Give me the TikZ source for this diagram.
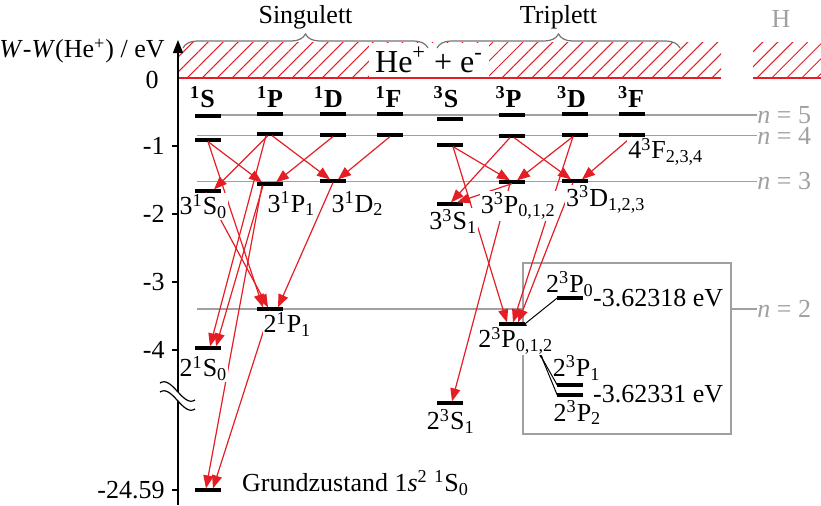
\documentclass[tikz,border=0pt]{standalone}
\usepackage{fontspec}
\setmainfont{Liberation Serif}
\usepackage{xcolor}
\usepackage{tikz}
\usetikzlibrary{arrows.meta,positioning,patterns.meta,decorations.pathreplacing}

\definecolor{linered}{RGB}{228,30,36}
\definecolor{guidegray}{RGB}{160,160,160}
\definecolor{bracegray}{RGB}{115,115,115}

\begin{document}
\begin{tikzpicture}[
    x=0.5pt, y=-0.5pt,
    font=\fontsize{13}{15.6}\selectfont,
    lvl/.style={fill=black, minimum width=12.8pt, minimum height=1.6pt,
                inner sep=0pt, outer sep=0pt},
    lab/.style={fill=white, inner sep=0.5pt},
    flab/.style={inner sep=0.5pt},
    head/.style={inner sep=0.5pt, anchor=base,
                 font=\fontsize{13}{15.6}\selectfont\bfseries},
    nline/.style={guidegray, line width=0.6pt},
    nlab/.style={guidegray, inner sep=0pt, anchor=west},
    tick/.style={inner sep=0.5pt, anchor=east},
    trans/.style={-{Triangle[length=6.5pt, width=5pt]}, linered, line width=0.6pt},
    brc/.style={decorate, decoration={brace, amplitude=7pt}, bracegray, line width=0.6pt},
    hatch/.style={pattern={Lines[angle=45, distance=5.3pt, line width=0.5pt]},
                  pattern color=linered}
  ]
    \useasboundingbox (0,0) rectangle (821,505);

    % continuum
    \fill[hatch] (178,42) rectangle (721,78);
    \fill[hatch] (753,42) rectangle (821,78);
    \node[fill=white, minimum width=60pt, minimum height=17.5pt, inner sep=0pt,
          font=\fontsize{16}{19}\selectfont] (cont)
      at (429,60) {He\textsuperscript{+} + e\textsuperscript{-}};
    \draw[linered, line width=0.8pt] (178,78) -- (721,78);
    \draw[linered, line width=0.8pt] (753,78) -- (821,78);
    \node[guidegray, inner sep=0.5pt] (hyd) at (781,19) {H};

    \coordinate (sgl) at (183,48);
    \coordinate (sgr) at (428,48);
    \coordinate (trl) at (437,48);
    \coordinate (trr) at (680,48);
    \draw[brc] (sgl) -- node[above=8.5pt, black, inner sep=0.5pt] (sing) {Singulett} (sgr);
    \draw[brc] (trl) -- node[above=8.5pt, black, inner sep=0.5pt] (trip) {Triplett} (trr);

    % shells
    \coordinate (n5a) at (197,115);
    \coordinate (n4a) at (197,135.5);
    \coordinate (n3a) at (197,181.5);
    \coordinate (n2a) at (197,309);
    \node[nlab] (n5) at (757,115)   {\textit{n} = 5};
    \node[nlab] (n4) at (757,135.5) {\textit{n} = 4};
    \node[nlab] (n3) at (757,181.5) {\textit{n} = 3};
    \node[nlab] (n2) at (757,309)   {\textit{n} = 2};
    \draw[nline] (n5a) -- (n5);
    \draw[nline] (n4a) -- (n4);
    \draw[nline] (n3a) -- (n3);
    \draw[nline] (n2a) -- (n2);

    \node[draw=guidegray, fill=white, line width=0.6pt, minimum width=104pt,
          minimum height=85.5pt, inner sep=0pt] (fsbox) at (627,348.5) {};

    % energy axis
    \coordinate (ybot) at (178,505);
    \coordinate (ytop) at (178,40);
    \draw[-{Triangle[length=6.5pt, width=5pt]}, line width=0.6pt] (ybot) -- (ytop);
    \node[tick] (ylab) at (166,51) {\textit{W}-\textit{W}(He\textsuperscript{+}) / eV};
    \node[tick] (tk0) at (160,80) {0};
    \draw[line width=0.6pt] (172,146) -- (178,146);
    \node[tick] (tk1) at (166,146) {-1};
    \draw[line width=0.6pt] (172,214) -- (178,214);
    \node[tick] (tk2) at (166,214) {-2};
    \draw[line width=0.6pt] (172,282) -- (178,282);
    \node[tick] (tk3) at (166,282) {-3};
    \draw[line width=0.6pt] (172,350) -- (178,350);
    \node[tick] (tk4) at (166,350) {-4};
    \draw[line width=0.6pt] (172,490) -- (178,490);
    \node[tick] (tk5) at (166,490) {-24.59};
    \fill[white] (160,383) .. controls (172,375) and (183,408) .. (195,400)
      -- (195,409) .. controls (183,417) and (172,384) .. (160,392) -- cycle;
    \draw[line width=0.6pt] (160,383) .. controls (172,375) and (183,408) .. (195,400);
    \draw[line width=0.6pt] (160,392) .. controls (172,384) and (183,417) .. (195,409);

    % column heads
    \node[head] (hs)  at (202.5,107) {\textsuperscript{1}S};
    \node[head] (hp)  at (270,107)   {\textsuperscript{1}P};
    \node[head] (hd)  at (328.5,107) {\textsuperscript{1}D};
    \node[head] (hf)  at (388.5,107) {\textsuperscript{1}F};
    \node[head] (hts) at (446,107)   {\textsuperscript{3}S};
    \node[head] (htp) at (508.5,107) {\textsuperscript{3}P};
    \node[head] (htd) at (571.5,107) {\textsuperscript{3}D};
    \node[head] (htf) at (631,107)   {\textsuperscript{3}F};

    % singlet levels
    \node[lvl] (s5) at (208,116) {};
    \node[lvl] (s4) at (208,140) {};
    \node[lvl] (s3) at (208,191) {};
    \node[lvl] (s2) at (208,348) {};
    \node[lvl] (gs) at (208,490) {};
    \node[lvl] (p5) at (270,114) {};
    \node[lvl] (p4) at (270,134) {};
    \node[lvl] (p3) at (270,184) {};
    \node[lvl] (p2) at (270,309) {};
    \node[lvl] (d5) at (333,114) {};
    \node[lvl] (d4) at (333,135) {};
    \node[lvl] (d3) at (333,181) {};
    \node[lvl] (f5) at (390,114) {};
    \node[lvl] (f4) at (390,135) {};

    % triplet levels
    \node[lvl] (ts5) at (450,119) {};
    \node[lvl] (ts4) at (450,145) {};
    \node[lvl] (ts3) at (450,204) {};
    \node[lvl] (ts2) at (450,403) {};
    \node[lvl] (tp5) at (512,115) {};
    \node[lvl] (tp4) at (512,136) {};
    \node[lvl] (tp3) at (512,182) {};
    \node[lvl] (tp2) at (512,324) {};
    \node[lvl] (td5) at (575,114) {};
    \node[lvl] (td4) at (575,135) {};
    \node[lvl] (td3) at (575,181) {};
    \node[lvl] (tf5) at (632,114) {};
    \node[lvl] (tf4) at (632,135) {};

    % fine structure of 2^3P
    \node[lvl] (fp0) at (570,298) {};
    \node[lvl] (fp1) at (570,385) {};
    \node[lvl] (fp2) at (570,395) {};
    \coordinate (split) at (542,358);
    \draw[line width=0.5pt] (tp2.east) -- (fp0.west);
    \draw[line width=1pt] (tp2.east) -- (split);
    \draw[line width=0.5pt] (split) -- (fp1.west);
    \draw[line width=0.5pt] (split) -- (fp2.west);

    % singlet transitions
    \draw[trans] (s4.south) -- ([xshift=-4pt]p3.north);
    \draw[trans] (s4.south) -- ([xshift=-3.5pt]p2.north);
    \draw[trans] ([xshift=-1pt]p4.south) -- ([xshift=3pt]s3.north);
    \draw[trans] ([xshift=1pt]p4.south) -- ([xshift=-1.5pt]d3.north);
    \draw[trans] ([xshift=-2pt]p4.south) -- ([xshift=1pt]s2.north);
    \draw[trans] (d4.south) -- ([xshift=3pt]p3.north);
    \draw[trans] (f4.south) -- ([xshift=2.5pt]d3.north);
    \draw[trans] ([xshift=-1pt]s3.south) -- ([xshift=-1pt]p2.north);
    \draw[trans] ([xshift=-3.5pt]p3.south) -- ([xshift=4pt]s2.north);
    \draw[trans] ([xshift=-4pt]p3.south) -- ([xshift=-1pt]gs.north);
    \draw[trans] (d3.south) -- ([xshift=4pt]p2.north);
    \draw[trans] (p2.south) -- ([xshift=2.5pt]gs.north);

    % triplet transitions
    \draw[trans] ([xshift=1.5pt]ts4.south) -- ([xshift=-1pt]tp3.north);
    \draw[trans] ([xshift=1.5pt]ts4.south) -- ([xshift=-2.5pt]tp2.north);
    \draw[trans] ([xshift=-1pt]tp4.south) -- ([xshift=0.5pt]ts3.north);
    \draw[trans] ([xshift=1pt]tp4.south) -- ([xshift=-2pt]td3.north);
    \draw[trans] ([xshift=-1pt]td4.south) -- ([xshift=2.5pt]tp3.north);
    \draw[trans] ([xshift=-1pt]td4.south) -- ([xshift=0.5pt]tp2.north);
    \draw[trans] (tf4.south) -- ([xshift=3.5pt]td3.north);
    \draw[trans] (tp3.south) -- ([xshift=3.5pt]ts3.north);
    \draw[trans] ([xshift=-1pt]tp3.south) -- ([xshift=1pt]ts2.north);
    \draw[trans] ([xshift=-1pt]td3.south) -- ([xshift=3pt]tp2.north);

    % level labels
    \node[lab, below=0pt of s3, xshift=-2.25pt] (ls3) {3\textsuperscript{1}S\textsubscript{0}};
    \node[lab, below=2.15pt of p3, xshift=10.75pt] (lp3) {3\textsuperscript{1}P\textsubscript{1}};
    \node[lab, below=3.65pt of d3, xshift=12.25pt] (ld3) {3\textsuperscript{1}D\textsubscript{2}};
    \node[lab, below=0pt of p2, xshift=8.75pt] (lp2) {2\textsuperscript{1}P\textsubscript{1}};
    \node[lab, below=2.5pt of s2, xshift=-2.25pt] (ls2) {2\textsuperscript{1}S\textsubscript{0}};
    \node[lab, right=10pt of gs, yshift=3.5pt] (lgs)
      {Grundzustand 1\textit{s}\textsuperscript{2} \textsuperscript{1}S\textsubscript{0}};
    \node[lab, below=1pt of ts3, xshift=1.65pt] (lts3) {3\textsuperscript{3}S\textsubscript{1}};
    \node[lab, below=3.65pt of tp3, xshift=3.15pt] (ltp3) {3\textsuperscript{3}P\textsubscript{0,1,2}};
    \node[lab, below=0.8pt of td3, xshift=15.4pt] (ltd3) {3\textsuperscript{3}D\textsubscript{1,2,3}};
    \node[lab, below=0pt of tf4, xshift=16.9pt] (ltf4) {4\textsuperscript{3}F\textsubscript{2,3,4}};
    \node[lab, below=0pt of tp2, xshift=1.9pt] (ltp2) {2\textsuperscript{3}P\textsubscript{0,1,2}};
    \node[lab, below=1.5pt of ts2, xshift=0.4pt] (lts2) {2\textsuperscript{3}S\textsubscript{1}};
    \node[flab, above=-0.75pt of fp0] (lfp0) {2\textsuperscript{3}P\textsubscript{0}};
    \node[flab, above=0.9pt of fp1, xshift=3.35pt] (lfp1) {2\textsuperscript{3}P\textsubscript{1}};
    \node[flab, below=1.15pt of fp2, xshift=3.75pt] (lfp2) {2\textsuperscript{3}P\textsubscript{2}};
    \node[flab, right=4.5pt of fp0] (e0) {-3.62318 eV};
    \node[flab, right=4.5pt of fp2, yshift=0.5pt] (e12) {-3.62331 eV};
\end{tikzpicture}
\end{document}
